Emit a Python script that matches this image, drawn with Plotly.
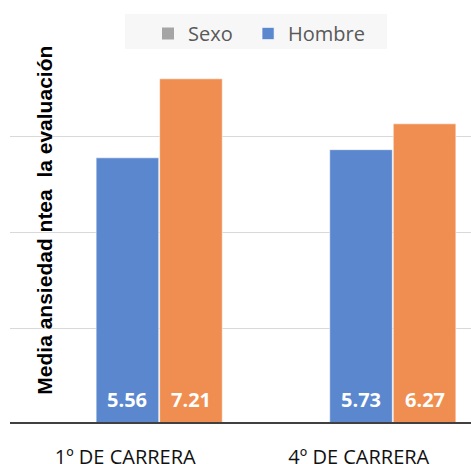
import plotly.graph_objects as go

# Data
categories = ["1º DE CARRERA", "4º DE CARRERA"]
hombre = [5.56, 5.73]
mujer = [7.21, 6.27]
legend_gris = "Sexo"
legend_azul = "Hombre"
y_title = "Media ansiedad ntea  la evaluación"
y_ticks = [0, 2, 4, 6, 8]

AZUL = "#5B87CF"
NARANJA = "#EF8E50"
GRIS = "#A5A5A5"

BARGAP = 0.456
x_pos = list(range(len(categories)))

fig = go.Figure()

# legend-only entry (no data); trailing no-break spaces widen its slot
fig.add_trace(go.Scatter(
    x=[None], y=[None], mode="markers", name=legend_gris + "\u00a0\u00a0",
    marker=dict(symbol="square", size=12, color=GRIS),
))

bar_line = dict(color="rgba(255,255,255,0.55)", width=1)
fig.add_trace(go.Bar(x=x_pos, y=hombre, name=legend_azul,
                     marker_color=AZUL, marker_line=bar_line))
fig.add_trace(go.Bar(x=x_pos, y=mujer, name="Mujer", showlegend=False,
                     marker_color=NARANJA, marker_line=bar_line))

# value labels near the foot of each bar (bar centres follow the group layout)
slot = (1 - BARGAP) / 2
label_font = dict(family="Open Sans", size=20, color="white", weight="bold")
for series, offset in ((hombre, -slot / 2), (mujer, slot / 2)):
    for xi, v in zip(x_pos, series):
        fig.add_annotation(x=xi + offset, y=0, xref="x", yref="y",
                           text=f"{v:.2f}", showarrow=False,
                           yanchor="middle", yshift=24.5, font=label_font)

# baseline
fig.add_shape(type="line", xref="paper", yref="y", x0=0, x1=1, y0=0, y1=0,
              line=dict(color="#404040", width=4), layer="above")

# legend panel
fig.add_shape(type="rect", xref="paper", yref="paper",
              x0=(125 - 10) / 461, x1=(387 - 10) / 461,
              y0=(424 - 49) / 383, y1=(424 - 14) / 383,
              fillcolor="#F7F7F7", line=dict(width=0), layer="above")

fig.add_annotation(
    text=y_title, xref="paper", yref="paper", x=0.076, y=0.531,
    xanchor="center", yanchor="middle", textangle=-90, showarrow=False,
    font=dict(family="Liberation Sans", size=21, color="black", weight="bold"),
)

fig.update_layout(
    width=471, height=464,
    margin=dict(l=10, r=0, t=41, b=40),
    paper_bgcolor="white", plot_bgcolor="white",
    barmode="group", bargap=BARGAP, bargroupgap=0.015,
    showlegend=True,
    legend=dict(
        orientation="h", x=0.2993, xanchor="left", y=1.0705, yanchor="top",
        bgcolor="rgba(0,0,0,0)", font=dict(family="Open Sans", size=20, color="#595959"),
        itemwidth=30, traceorder="normal",
    ),
    xaxis=dict(
        range=[-0.6387, 1.3348], tickvals=x_pos, ticktext=categories,
        showgrid=False, zeroline=False, showline=False, ticks="",
        ticklabelshift=-34, ticklabelstandoff=19, automargin=False,
        tickfont=dict(family="Open Sans", size=20, color="#111111"),
    ),
    yaxis=dict(
        range=[0, 8], tickvals=y_ticks, showticklabels=False,
        showgrid=True, gridcolor="#D9D9D9", gridwidth=1, zeroline=False,
        automargin=False,
    ),
)

fig.write_html("out.html")
